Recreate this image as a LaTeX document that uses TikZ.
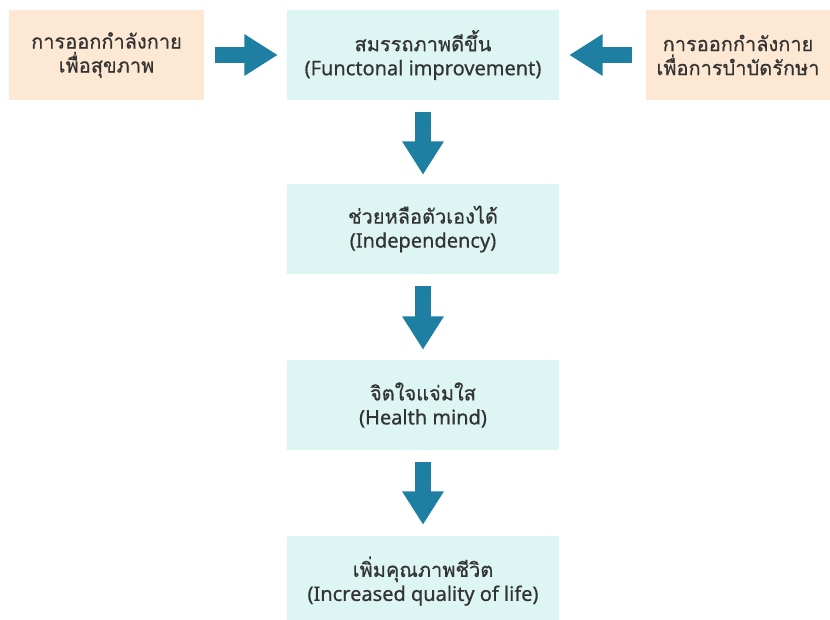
\documentclass[tikz,border=0pt]{standalone}
\usepackage{fontspec}
\setmainfont{Noto Sans}[FakeBold=0.6]
\newfontfamily\thaifont[Script=Thai,FakeBold=0.6]{Loma}
\usetikzlibrary{arrows.meta}
\definecolor{boxcyan}{HTML}{DDF6F3}
\definecolor{boxpeach}{HTML}{FDE9D3}
\definecolor{arrblue}{HTML}{1F7FA3}
\definecolor{txtgray}{HTML}{333333}
\tikzset{
  box/.style={fill=boxcyan, minimum width=272*0.75pt, minimum height=90*0.75pt,
    align=center, text=txtgray, font=\fontsize{15}{18}\selectfont},
  sidebox/.style={box, fill=boxpeach},
  bigarrow/.style={draw=arrblue, line width=12pt,
    -{Triangle[width=29.5pt,length=25pt]}, arrblue}
}
\begin{document}
\begin{tikzpicture}[x=0.75pt,y=-0.75pt]
\useasboundingbox (0,0) rectangle (830,619);
\node[sidebox, minimum width=195*0.75pt] (s0) at (106.5,55) {{\thaifont การออกกำลังกาย}\\{\thaifont เพื่อสุขภาพ}};
\node[box] (s1) at (423,55) {{\thaifont สมรรถภาพดีขึ้น}\\(Functonal improvement)};
\node[sidebox, minimum width=184*0.75pt] (s2) at (738,55) {{\thaifont การออกกำลังกาย}\\{\thaifont เพื่อการบำบัดรักษา}};
\node[box] (s3) at (423,229) {{\thaifont ช่วยหลือตัวเองได้}\\(Independency)};
\node[box] (s4) at (423,405) {{\thaifont จิตใจแจ่มใส}\\(Health mind)};
\node[box] (s5) at (423,581) {{\thaifont เพิ่มคุณภาพชีวิต}\\(Increased quality of life)};
\draw[bigarrow, shorten <=11*0.75pt, shorten >=9*0.75pt] (s0) -- (s1);
\draw[bigarrow, shorten <=14*0.75pt, shorten >=10*0.75pt] (s2) -- (s1);
\draw[bigarrow, shorten <=12*0.75pt, shorten >=9*0.75pt] (s1) -- (s3);
\draw[bigarrow, shorten <=12*0.75pt, shorten >=10*0.75pt] (s3) -- (s4);
\draw[bigarrow, shorten <=12*0.75pt, shorten >=11*0.75pt] (s4) -- (s5);
\end{tikzpicture}
\end{document}
